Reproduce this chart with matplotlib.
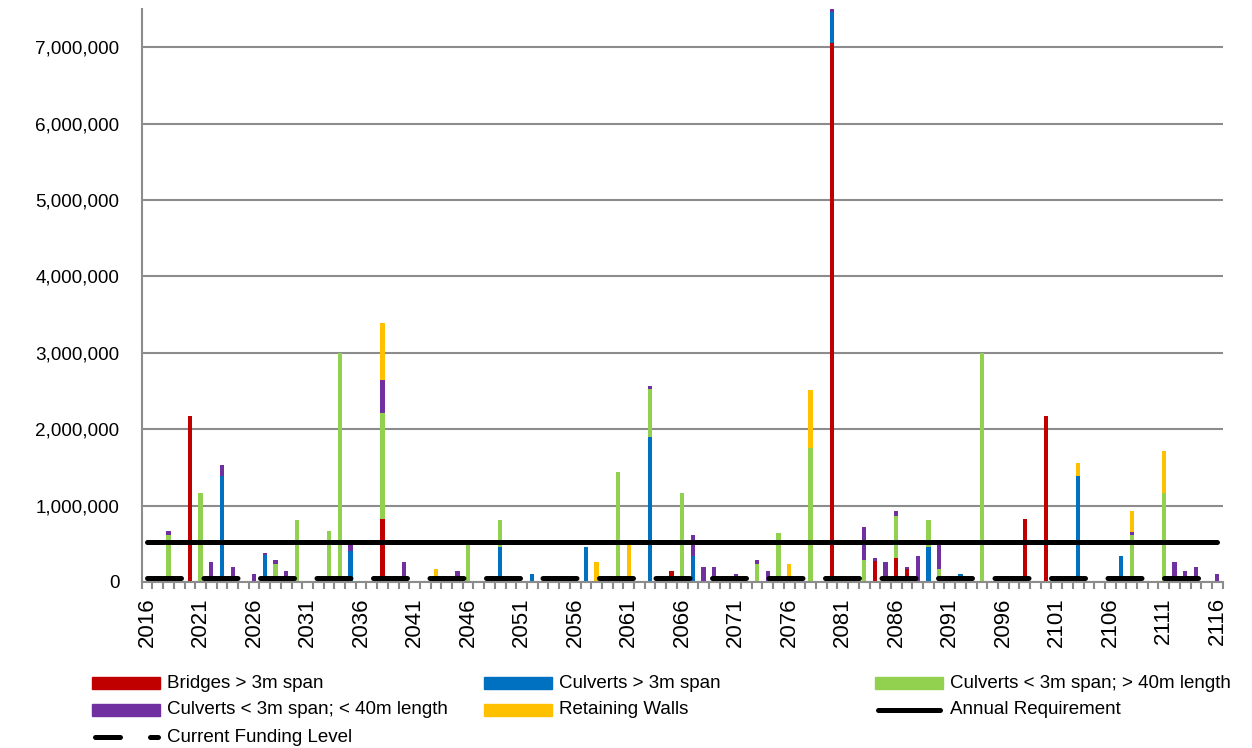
import numpy as np
import matplotlib
matplotlib.use("Agg")
import matplotlib.pyplot as plt
from matplotlib.lines import Line2D
from matplotlib.patches import Rectangle
from matplotlib.ticker import FuncFormatter

plt.rcParams['font.family'] = ['Liberation Sans', 'DejaVu Sans']

# ---------------- data ----------------
years = list(range(2016, 2117))
label_years = list(range(2016, 2117, 5))

series_names = ["Bridges > 3m span", "Culverts > 3m span",
                "Culverts < 3m span; > 40m length",
                "Culverts < 3m span; < 40m length", "Retaining Walls"]
series_colors = ["#C00000", "#0070C0", "#92D050", "#7030A0", "#FFC000"]

bridges = {2020: 2170000, 2038: 825000, 2065: 140000, 2080: 7050000,
           2084: 270000, 2086: 320000, 2087: 170000, 2098: 825000,
           2100: 2170000}
culverts_large = {2023: 1390000, 2027: 350000, 2035: 400000, 2049: 460000,
                  2052: 110000, 2057: 460000, 2063: 1900000, 2067: 340000,
                  2080: 410000, 2089: 460000, 2092: 110000, 2103: 1390000,
                  2107: 340000}
culverts_long = {2018: 610000, 2021: 1160000, 2028: 230000, 2030: 810000,
                 2033: 670000, 2034: 3000000, 2038: 1385000, 2046: 500000,
                 2049: 350000, 2060: 1440000, 2063: 620000, 2066: 1160000,
                 2073: 230000, 2075: 640000, 2078: 1760000, 2083: 290000,
                 2086: 550000, 2089: 350000, 2090: 170000, 2094: 3000000,
                 2108: 610000, 2111: 1160000}
culverts_short = {2018: 60000, 2022: 260000, 2023: 140000, 2024: 200000,
                  2026: 110000, 2027: 25000, 2028: 60000, 2029: 140000,
                  2035: 80000, 2038: 430000, 2040: 260000, 2045: 140000,
                  2063: 50000, 2067: 270000, 2068: 200000, 2069: 200000,
                  2071: 110000, 2073: 60000, 2074: 140000, 2080: 50000,
                  2083: 430000, 2084: 50000, 2085: 260000, 2086: 60000,
                  2087: 30000, 2088: 340000, 2090: 330000, 2108: 50000,
                  2112: 260000, 2113: 140000, 2114: 200000, 2116: 110000}
retaining_walls = {2038: 750000, 2043: 170000, 2058: 260000, 2061: 500000,
                   2076: 230000, 2078: 750000, 2103: 170000, 2108: 270000,
                   2111: 550000}

annual_requirement = 520000
current_funding = 55000

# ---------------- figure ----------------
W, H = 1252, 748
fig = plt.figure(figsize=(W / 100, H / 100), dpi=100)
ax_l, ax_r, ax_t, ax_b = 141.7, 1222.7, 9, 582
ax = fig.add_axes([ax_l / W, 1 - ax_b / H, (ax_r - ax_l) / W, (ax_b - ax_t) / H])

x = np.arange(len(years))
bottom = np.zeros(len(years))
grid_col = "#8C8C8C"
for data, name, col in zip([bridges, culverts_large, culverts_long,
                            culverts_short, retaining_walls],
                           series_names, series_colors):
    vals = np.array([data.get(y, 0) for y in years], dtype=float)
    ax.bar(x, vals, width=0.4, bottom=bottom, color=col, zorder=2,
           label=name)
    bottom += vals

ax.plot(x, np.full(len(years), annual_requirement), color="black", lw=3.6,
        solid_capstyle="round", zorder=4)
ax.plot(x, np.full(len(years), current_funding), color="black", lw=3.6,
        dashes=(6.8, 4.5), dash_capstyle="round", zorder=4)

ax.set_xlim(-0.5, len(years) - 0.5)
ax.set_ylim(0, 7500000)
ax.set_yticks(np.arange(0, 7000001, 1000000))
ax.yaxis.set_major_formatter(FuncFormatter(lambda v, p: f"{v:,.0f}"))
ax.grid(axis="y", color=grid_col, lw=1.5, zorder=0)
ax.set_axisbelow(True)

for s in ["top", "right"]:
    ax.spines[s].set_visible(False)
for s in ["left", "bottom"]:
    ax.spines[s].set_color(grid_col)
    ax.spines[s].set_linewidth(1.5)

ax.set_xticks(np.arange(-0.5, len(years), 1.0))
ax.set_xticklabels([])
ax.tick_params(axis="x", which="major", length=5, width=1.5, color=grid_col,
               direction="out")
ax.set_xticks([years.index(y) for y in label_years], minor=True)
ax.set_xticklabels([str(y) for y in label_years], minor=True, rotation=90,
                   fontsize=16)
ax.tick_params(axis="x", which="minor", length=0, pad=11)
ax.tick_params(axis="y", length=0, pad=16, labelsize=13.6)

# ---------------- legend (manual, Excel-like grid) ----------------
leg_font = dict(fontsize=13.5, va="center", ha="left",
                family=["Liberation Sans", "DejaVu Sans"])
col_x = [92, 484, 875]
row_y = [683, 710, 737]
entries = [(0, 0, "bar", 0), (0, 1, "bar", 1), (0, 2, "bar", 2),
           (1, 0, "bar", 3), (1, 1, "bar", 4), (1, 2, "solid", None),
           (2, 0, "dash", None)]
line_names = {"solid": "Annual Requirement", "dash": "Current Funding Level"}
for r, c, kind, idx in entries:
    x0 = col_x[c]
    y0 = row_y[r]
    if kind == "bar":
        fig.add_artist(Rectangle((x0 / W, 1 - (y0 + 6) / H), 68 / W, 12 / H,
                                 transform=fig.transFigure,
                                 color=series_colors[idx]))
        label = series_names[idx]
    elif kind == "solid":
        fig.add_artist(Line2D([(x0 + 3) / W, (x0 + 65) / W],
                              [1 - y0 / H, 1 - y0 / H], color="black", lw=3.6,
                              solid_capstyle="round",
                              transform=fig.transFigure))
        label = line_names[kind]
    else:
        fig.add_artist(Line2D([(x0 + 2.5) / W, (x0 + 65.5) / W],
                              [1 - y0 / H, 1 - y0 / H], color="black", lw=3.6,
                              dashes=(5.0, 6.0), dash_capstyle="round",
                              transform=fig.transFigure))
        label = line_names[kind]
    fig.text((x0 + 75) / W, 1 - y0 / H, label, **leg_font)

fig.savefig("out.png", dpi=100)
